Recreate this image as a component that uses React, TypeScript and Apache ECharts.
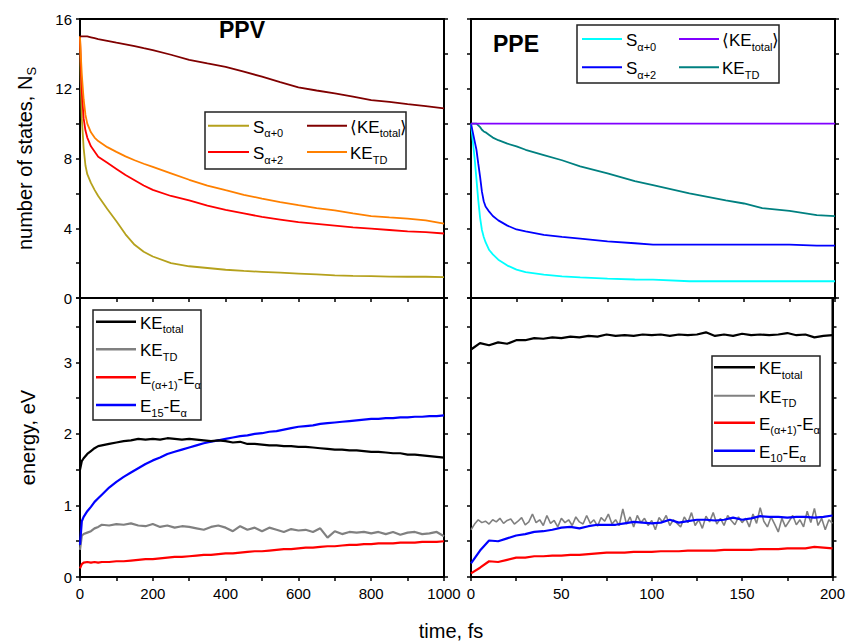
import React, { useEffect, useRef } from 'react';
import * as echarts from 'echarts';

const FONT = '"Liberation Sans", Arial, Helvetica, sans-serif';

// ---------- PPV, number of states (top left) ----------
const ppvT = [0, 2, 5, 10, 15, 20, 30, 40, 50, 75, 100, 125, 150, 175, 200, 250, 300, 350, 400, 450, 500, 550, 600, 650, 700, 750, 800, 850, 900, 950, 1000];
const ppvS0 = [15, 12.5, 10.3, 8.6, 7.6, 7.1, 6.6, 6.2, 5.85, 5.1, 4.4, 3.65, 3.05, 2.65, 2.38, 2.0, 1.82, 1.72, 1.62, 1.55, 1.5, 1.45, 1.4, 1.35, 1.3, 1.27, 1.25, 1.23, 1.22, 1.22, 1.2];
const ppvS2 = [15, 13.5, 11.8, 10.3, 9.6, 9.2, 8.7, 8.4, 8.1, 7.75, 7.4, 7.05, 6.75, 6.45, 6.2, 5.85, 5.6, 5.3, 5.05, 4.85, 4.65, 4.5, 4.35, 4.25, 4.15, 4.05, 3.98, 3.9, 3.82, 3.78, 3.7];
const ppvKeTd = [15, 14, 12.8, 11.4, 10.5, 10.0, 9.5, 9.2, 9.0, 8.65, 8.38, 8.12, 7.9, 7.7, 7.52, 7.15, 6.78, 6.45, 6.18, 5.92, 5.7, 5.5, 5.32, 5.15, 5.02, 4.85, 4.7, 4.62, 4.55, 4.45, 4.27];
const ppvKeTot = [15, 15, 15, 15, 15, 15, 14.95, 14.9, 14.85, 14.75, 14.64, 14.55, 14.45, 14.33, 14.22, 13.95, 13.66, 13.45, 13.26, 12.98, 12.69, 12.38, 12.08, 11.9, 11.73, 11.55, 11.35, 11.25, 11.12, 11.0, 10.87];

// ---------- PPE, number of states (top right) ----------
const pleT = [0, 1, 2, 3, 4, 5, 6, 7, 8, 10, 12, 15, 20, 25, 30, 40, 50, 60, 75, 90, 100, 120, 140, 150, 160, 175, 190, 200];
const pleS0 = [10, 9.0, 8.0, 6.8, 5.6, 4.6, 3.9, 3.5, 3.2, 2.75, 2.5, 2.2, 1.86, 1.63, 1.48, 1.34, 1.24, 1.18, 1.11, 1.06, 1.05, 0.96, 0.96, 0.96, 0.96, 0.96, 0.96, 0.96];
const pleS2 = [10, 9.5, 9.0, 8.5, 7.7, 6.95, 6.1, 5.55, 5.25, 4.95, 4.7, 4.45, 4.15, 3.93, 3.82, 3.62, 3.5, 3.41, 3.25, 3.14, 3.06, 3.06, 3.06, 3.06, 3.06, 3.06, 3.0, 3.0];
const pleKeTd = [10, 10, 10, 10, 9.9, 9.8, 9.65, 9.55, 9.5, 9.35, 9.2, 9.05, 8.85, 8.7, 8.5, 8.2, 7.9, 7.55, 7.15, 6.7, 6.47, 6.0, 5.6, 5.42, 5.15, 5.0, 4.75, 4.7];
const pleKeTot = [10, 10, 10, 10, 10, 10, 10, 10, 10, 10, 10, 10, 10, 10, 10, 10, 10, 10, 10, 10, 10, 10, 10, 10, 10, 10, 10, 10];

// ---------- PPV, energy (bottom left) ----------
const ppvEt = [0, 5, 10, 20, 30, 40, 50, 60, 80, 100, 120, 140, 160, 180, 200, 220, 240, 260, 280, 300, 320, 340, 360, 380, 400, 420, 440, 460, 480, 500, 520, 540, 560, 580, 600, 620, 640, 660, 680, 700, 720, 740, 760, 780, 800, 820, 840, 860, 880, 900, 920, 940, 960, 980, 1000];
const ppvEKeTot = [1.5, 1.62, 1.66, 1.72, 1.76, 1.8, 1.83, 1.84, 1.86, 1.88, 1.9, 1.91, 1.93, 1.92, 1.93, 1.92, 1.94, 1.93, 1.92, 1.93, 1.92, 1.91, 1.9, 1.91, 1.9, 1.88, 1.89, 1.86, 1.86, 1.85, 1.84, 1.84, 1.83, 1.83, 1.82, 1.82, 1.81, 1.8, 1.79, 1.78, 1.78, 1.77, 1.77, 1.76, 1.75, 1.75, 1.74, 1.73, 1.73, 1.71, 1.71, 1.7, 1.69, 1.68, 1.67];
const ppvEKeTd = [0.38, 0.58, 0.6, 0.62, 0.64, 0.68, 0.7, 0.73, 0.72, 0.74, 0.73, 0.75, 0.72, 0.71, 0.74, 0.7, 0.72, 0.69, 0.71, 0.7, 0.68, 0.66, 0.7, 0.72, 0.69, 0.64, 0.71, 0.66, 0.69, 0.64, 0.69, 0.66, 0.63, 0.67, 0.65, 0.66, 0.63, 0.68, 0.55, 0.64, 0.6, 0.63, 0.62, 0.63, 0.61, 0.63, 0.6, 0.63, 0.59, 0.62, 0.63, 0.6, 0.61, 0.63, 0.57];
const ppvEGap = [0.12, 0.18, 0.2, 0.21, 0.2, 0.21, 0.2, 0.21, 0.21, 0.22, 0.22, 0.23, 0.24, 0.25, 0.25, 0.26, 0.27, 0.28, 0.28, 0.29, 0.3, 0.31, 0.31, 0.32, 0.33, 0.33, 0.34, 0.35, 0.36, 0.36, 0.37, 0.38, 0.39, 0.39, 0.4, 0.41, 0.41, 0.42, 0.43, 0.43, 0.44, 0.45, 0.45, 0.46, 0.46, 0.47, 0.47, 0.47, 0.48, 0.48, 0.48, 0.49, 0.49, 0.49, 0.5];
const ppvE15 = [0.45, 0.78, 0.84, 0.92, 0.98, 1.05, 1.1, 1.15, 1.25, 1.33, 1.4, 1.46, 1.52, 1.58, 1.63, 1.67, 1.72, 1.75, 1.78, 1.81, 1.84, 1.87, 1.89, 1.91, 1.93, 1.95, 1.97, 1.98, 2.0, 2.01, 2.03, 2.04, 2.06, 2.08, 2.1, 2.11, 2.12, 2.14, 2.15, 2.16, 2.17, 2.18, 2.19, 2.2, 2.21, 2.21, 2.22, 2.22, 2.23, 2.23, 2.24, 2.24, 2.25, 2.25, 2.26];

// ---------- PPE, energy (bottom right) ----------
const pleEt = [0, 5, 10, 15, 20, 25, 30, 35, 40, 45, 50, 55, 60, 65, 70, 75, 80, 85, 90, 95, 100, 105, 110, 115, 120, 125, 130, 135, 140, 145, 150, 155, 160, 165, 170, 175, 180, 185, 190, 195, 200];
const pleEKeTot = [3.18, 3.27, 3.24, 3.28, 3.26, 3.31, 3.31, 3.34, 3.33, 3.35, 3.34, 3.36, 3.35, 3.37, 3.36, 3.39, 3.37, 3.38, 3.37, 3.39, 3.38, 3.39, 3.37, 3.39, 3.38, 3.39, 3.42, 3.37, 3.39, 3.37, 3.4, 3.38, 3.39, 3.38, 3.39, 3.41, 3.38, 3.39, 3.35, 3.37, 3.38];
const pleEGap = [0.05, 0.13, 0.22, 0.21, 0.24, 0.27, 0.27, 0.29, 0.29, 0.3, 0.3, 0.31, 0.31, 0.32, 0.33, 0.34, 0.34, 0.34, 0.35, 0.35, 0.35, 0.36, 0.36, 0.36, 0.37, 0.37, 0.37, 0.37, 0.38, 0.38, 0.38, 0.38, 0.39, 0.39, 0.39, 0.4, 0.4, 0.4, 0.42, 0.41, 0.4];
const pleE10 = [0.19, 0.37, 0.51, 0.5, 0.54, 0.58, 0.6, 0.63, 0.64, 0.66, 0.69, 0.7, 0.68, 0.71, 0.73, 0.73, 0.73, 0.75, 0.77, 0.76, 0.75, 0.76, 0.8, 0.76, 0.78, 0.8, 0.8, 0.79, 0.8, 0.83, 0.8, 0.82, 0.85, 0.84, 0.84, 0.83, 0.84, 0.84, 0.83, 0.84, 0.86];
const pleGrayT = [0, 2, 4, 6, 8, 10, 12, 14, 16, 18, 20, 22, 24, 26, 28, 30, 32, 34, 36, 38, 40, 42, 44, 46, 48, 50, 52, 54, 56, 58, 60, 62, 64, 66, 68, 70, 72, 74, 76, 78, 80, 82, 84, 86, 88, 90, 92, 94, 96, 98, 100, 102, 104, 106, 108, 110, 112, 114, 116, 118, 120, 122, 124, 126, 128, 130, 132, 134, 136, 138, 140, 142, 144, 146, 148, 150, 152, 154, 156, 158, 160, 162, 164, 166, 168, 170, 172, 174, 176, 178, 180, 182, 184, 186, 188, 190, 192, 194, 196, 198, 200];
const pleEKeTd = [0.66, 0.74, 0.8, 0.76, 0.78, 0.74, 0.8, 0.77, 0.82, 0.75, 0.79, 0.81, 0.74, 0.78, 0.83, 0.73, 0.77, 0.88, 0.76, 0.8, 0.72, 0.86, 0.75, 0.79, 0.7, 0.82, 0.76, 0.8, 0.72, 0.84, 0.77, 0.74, 0.86, 0.75, 0.8, 0.71, 0.83, 0.78, 0.88, 0.74, 0.8, 0.72, 0.95, 0.74, 0.84, 0.7, 0.86, 0.76, 0.82, 0.72, 0.79, 0.66, 0.83, 0.77, 0.86, 0.72, 0.8, 0.75, 0.7, 0.84, 0.76, 0.9, 0.72, 0.8, 0.68, 0.85, 0.77, 0.9, 0.74, 0.82, 0.72, 0.86, 0.79, 0.73, 0.84, 0.76, 0.82, 0.7, 0.88, 0.75, 0.97, 0.78, 0.7, 0.84, 0.74, 0.63, 0.82, 0.7, 0.78, 0.86, 0.73, 0.8, 0.7, 0.92, 0.76, 0.96, 0.72, 0.82, 0.66, 0.8, 0.75];

const pair = (t: number[], v: number[]) => t.map((x, i) => [x, v[i]]);

const GRIDS = [
  { left: 80, top: 19, width: 364, height: 279 },
  { left: 471, top: 19, width: 364, height: 279 },
  { left: 80, top: 298, width: 364, height: 279 },
  { left: 471, top: 298, width: 364, height: 279 },
];

const tickStyle = { show: true, inside: false, length: 4, lineStyle: { color: '#000', width: 1.5 } };
const lineSt = { show: true, onZero: false, lineStyle: { color: '#000', width: 2 } };

function xAx(grid: number, max: number, interval: number, every: number, labels: boolean) {
  return {
    type: 'value', gridIndex: grid, min: 0, max, interval, position: 'bottom',
    axisLine: lineSt, axisTick: tickStyle, splitLine: { show: false },
    axisLabel: {
      show: labels, color: '#000', fontSize: 15, fontFamily: FONT, margin: 9,
      formatter: (v: number) => (Math.abs(v % every) < 1e-9 ? String(v) : ''),
    },
  };
}

function yAx(grid: number, max: number, interval: number, every: number, labels: boolean, pos: string, name?: string) {
  const o: any = {
    type: 'value', gridIndex: grid, min: 0, max, interval, position: pos,
    axisLine: lineSt, axisTick: tickStyle, splitLine: { show: false },
    axisLabel: {
      show: labels, color: '#000', fontSize: 15, fontFamily: FONT, margin: 8,
      formatter: (v: number) => (Math.abs(v % every) < 1e-9 ? String(v) : ''),
    },
  };
  if (name) {
    o.name = name;
    o.nameLocation = 'middle';
    o.nameRotate = 90;
    o.nameGap = 42;
    o.nameTextStyle = {
      color: '#000', fontSize: 20, fontFamily: FONT,
      rich: {
        m: { color: '#000', fontSize: 20, fontFamily: FONT },
        s: { color: '#000', fontSize: 13, fontFamily: FONT, padding: [13, 0, 0, 0] },
      },
    };
  }
  return o;
}

function mk(name: string, t: number[], v: number[], color: string, xi: number, yi: number, width = 1.8) {
  return {
    type: 'line', name, data: pair(t, v), xAxisIndex: xi, yAxisIndex: yi,
    symbol: 'none', showSymbol: false, silent: true, clip: true, z: 3,
    lineStyle: { color, width }, itemStyle: { color },
  };
}

const legRich = {
  m: { fill: '#000', fontSize: 17, fontFamily: FONT },
  s: { fill: '#000', fontSize: 11, fontFamily: FONT, padding: [12, 0, 0, 0] },
};

type LegItem = { y: number; x1: number; x2: number; tx: number; color: string; w: number; text: string };

function legend(x: number, y: number, w: number, h: number, items: LegItem[]) {
  const children: any[] = [
    { type: 'rect', shape: { x, y, width: w, height: h }, style: { fill: '#fff', stroke: '#222', lineWidth: 1.5 } },
  ];
  items.forEach((it) => {
    children.push({ type: 'line', shape: { x1: it.x1, y1: it.y, x2: it.x2, y2: it.y }, style: { stroke: it.color, lineWidth: it.w } });
    children.push({
      type: 'text', x: it.tx, y: it.y + 1.5,
      style: { text: it.text, rich: legRich, fill: '#000', fontSize: 17, fontFamily: FONT, align: 'left', verticalAlign: 'middle' },
    });
  });
  return { type: 'group', children, z: 10 };
}

const C = {
  olive: '#b5a11c', maroon: '#800000', red: '#ff0000', orange: '#ff8000',
  cyan: '#00ffff', purple: '#8000ff', blue: '#0000ff', teal: '#008080',
  black: '#000000', gray: '#808080',
};

export default function App() {
  const ref = useRef<HTMLDivElement>(null);
  useEffect(() => {
    document.body.style.margin = '0';
    const chart = echarts.init(ref.current!, null, { renderer: 'svg' });
    const option: any = {
      animation: false,
      backgroundColor: '#fff',
      grid: GRIDS.map((g) => ({ ...g, show: true, borderColor: '#000', borderWidth: 2, backgroundColor: 'transparent' })),
      xAxis: [
        xAx(0, 1000, 100, 200, false),
        xAx(1, 200, 25, 50, false),
        xAx(2, 1000, 100, 200, true),
        xAx(3, 200, 25, 50, true),
      ],
      yAxis: [
        yAx(0, 16, 2, 4, true, 'left', '{m|number of states, N}{s|S}'),
        yAx(1, 16, 2, 4, false, 'left'),
        yAx(2, 3.9, 0.5, 1, true, 'left', '{m|energy, eV}'),
        yAx(3, 3.9, 0.5, 1, false, 'left'),
        yAx(0, 16, 2, 4, false, 'right'),
        yAx(1, 16, 2, 4, false, 'right'),
        yAx(2, 3.9, 0.5, 1, false, 'right'),
        yAx(3, 3.9, 0.5, 1, false, 'right'),
      ],
      series: [
        mk('PPV S α+0', ppvT, ppvS0, C.olive, 0, 0),
        mk('PPV S α+2', ppvT, ppvS2, C.red, 0, 0),
        mk('PPV KE TD', ppvT, ppvKeTd, C.orange, 0, 0),
        mk('PPV KE total', ppvT, ppvKeTot, C.maroon, 0, 0),
        mk('PPE S α+0', pleT, pleS0, C.cyan, 1, 1),
        mk('PPE S α+2', pleT, pleS2, C.blue, 1, 1),
        mk('PPE KE TD', pleT, pleKeTd, C.teal, 1, 1),
        mk('PPE KE total', pleT, pleKeTot, C.purple, 1, 1),
        mk('PPV KEtd energy', ppvEt, ppvEKeTd, C.gray, 2, 2, 2.2),
        mk('PPV gap', ppvEt, ppvEGap, C.red, 2, 2, 2.2),
        mk('PPV E15', ppvEt, ppvE15, C.blue, 2, 2, 2.2),
        mk('PPV KEtot energy', ppvEt, ppvEKeTot, C.black, 2, 2, 2.2),
        mk('PPE KEtd energy', pleGrayT, pleEKeTd, C.gray, 3, 3, 1.6),
        mk('PPE gap', pleEt, pleEGap, C.red, 3, 3, 2.2),
        mk('PPE E10', pleEt, pleE10, C.blue, 3, 3, 2.2),
        mk('PPE KEtot energy', pleEt, pleEKeTot, C.black, 3, 3, 2.2),
      ],
      graphic: [
        { type: 'text', x: 242, y: 30, z: 10, style: { text: 'PPV', fill: '#000', fontSize: 23, fontWeight: 'bold', fontFamily: FONT, align: 'center', verticalAlign: 'middle' } },
        { type: 'text', x: 516, y: 44, z: 10, style: { text: 'PPE', fill: '#000', fontSize: 23, fontWeight: 'bold', fontFamily: FONT, align: 'center', verticalAlign: 'middle' } },
        { type: 'text', x: 451, y: 631, z: 10, style: { text: 'time, fs', fill: '#000', fontSize: 20, fontFamily: FONT, align: 'center', verticalAlign: 'middle' } },
        legend(205, 112, 201, 57, [
          { y: 125.7, x1: 208, x2: 249, tx: 253, color: C.olive, w: 2, text: '{m|S}{s|α+0}' },
          { y: 125.7, x1: 307, x2: 347, tx: 350, color: C.maroon, w: 2, text: '{m|⟨KE}{s|total}{m|⟩}' },
          { y: 152, x1: 208, x2: 249, tx: 253, color: C.red, w: 2, text: '{m|S}{s|α+2}' },
          { y: 152, x1: 307, x2: 347, tx: 350, color: C.orange, w: 2, text: '{m|KE}{s|TD}' },
        ]),
        legend(577, 25, 202, 58, [
          { y: 39, x1: 582, x2: 622, tx: 626, color: C.cyan, w: 2, text: '{m|S}{s|α+0}' },
          { y: 39, x1: 679, x2: 719, tx: 722, color: C.purple, w: 2, text: '{m|⟨KE}{s|total}{m|⟩}' },
          { y: 67.3, x1: 582, x2: 622, tx: 626, color: C.blue, w: 2, text: '{m|S}{s|α+2}' },
          { y: 67.3, x1: 679, x2: 719, tx: 722, color: C.teal, w: 2, text: '{m|KE}{s|TD}' },
        ]),
        legend(93, 310, 108, 110, [
          { y: 321.7, x1: 96, x2: 136, tx: 140, color: C.black, w: 2.5, text: '{m|KE}{s|total}' },
          { y: 349.3, x1: 96, x2: 136, tx: 140, color: C.gray, w: 2.5, text: '{m|KE}{s|TD}' },
          { y: 377.3, x1: 96, x2: 136, tx: 140, color: C.red, w: 2.5, text: '{m|E}{s|(α+1)}{m|-E}{s|α}' },
          { y: 405, x1: 96, x2: 136, tx: 140, color: C.blue, w: 2.5, text: '{m|E}{s|15}{m|-E}{s|α}' },
        ]),
        legend(712, 356, 108, 110, [
          { y: 367.3, x1: 714, x2: 755, tx: 759, color: C.black, w: 2.5, text: '{m|KE}{s|total}' },
          { y: 395.7, x1: 714, x2: 755, tx: 759, color: C.gray, w: 2, text: '{m|KE}{s|TD}' },
          { y: 422.7, x1: 714, x2: 755, tx: 759, color: C.red, w: 2.5, text: '{m|E}{s|(α+1)}{m|-E}{s|α}' },
          { y: 450.7, x1: 714, x2: 755, tx: 759, color: C.blue, w: 2.5, text: '{m|E}{s|10}{m|-E}{s|α}' },
        ]),
      ],
    };
    chart.setOption(option);
    return () => chart.dispose();
  }, []);
  return <div ref={ref} style={{ width: 848, height: 644 }} />;
}
